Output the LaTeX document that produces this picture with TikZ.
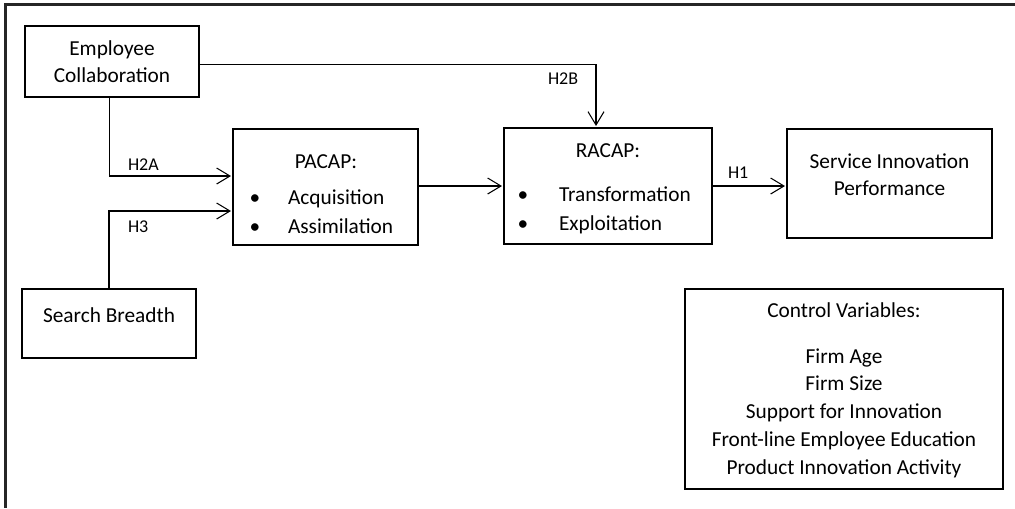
\documentclass[tikz,border=0pt]{standalone}
\usepackage{fontspec}
\setmainfont{Carlito}
\usepackage{tikz}
\usetikzlibrary{arrows.meta,positioning}

\begin{document}
\begin{tikzpicture}
[x=0.75pt, y=-0.75pt,
 every node/.style={font=\fontsize{16}{20.5}\selectfont, inner sep=0pt, outer sep=0pt},
 box/.style 2 args={draw, line width=0.9pt, minimum width=#1*0.75pt, minimum height=#2*0.75pt},
 txt/.style={anchor=base},
 item/.style={anchor=base west},
 hyp/.style={anchor=base west, font=\fontsize{13.5}{16}\selectfont},
 link/.style={line width=0.8pt, -{Straight Barb[length=10pt,width=12pt,line width=0.8pt]}, shorten >=1.5pt}]
\useasboundingbox (0,0) rectangle (1015,508);
% Outer frame (top and left only)
\draw[line width=1.6pt, black!85] (1015,4.5) -- (5.5,4.5) -- (5.5,508);

% Define the boxes
\node[box={174}{71}] (ec) at (112,61.5) {};
\node[txt] (ec1) at (112,55) {Employee};
\node[txt] (ec2) at (112,82) {Collaboration};

\node[box={174}{69}] (sb) at (109,323.5) {};
\node[txt] (sb1) at (109,322) {Search Breadth};

\node[box={185}{116}] (pacap) at (325.5,187) {};
\node[txt] (pacap0) at (326,168) {PACAP:};
\node[txt] (pb1) at (255,204) {•};
\node[txt] (pb2) at (255,233) {•};
\node[item] (pacap1) at (288,204) {Acquisition};
\node[item] (pacap2) at (288,233) {Assimilation};

\node[box={208}{116}] (racap) at (608,186) {};
\node[txt] (racap0) at (608,157) {RACAP:};
\node[txt] (rb1) at (523,201) {•};
\node[txt] (rb2) at (523,230) {•};
\node[item] (racap1) at (559,201) {Transformation};
\node[item] (racap2) at (559,230) {Exploitation};

\node[box={205}{109}] (sip) at (889.5,183.5) {};
\node[txt] (sip1) at (889.5,168) {Service Innovation};
\node[txt] (sip2) at (889.5,195) {Performance};

\node[box={318}{200}] (cv) at (844,389) {};
\node[txt] (cv0) at (844,317) {Control Variables:};
\node[txt] (cv1) at (844,363) {Firm Age};
\node[txt] (cv2) at (844,390) {Firm Size};
\node[txt] (cv3) at (844,418) {Support for Innovation};
\node[txt] (cv4) at (844,446) {Front-line Employee Education};
\node[txt] (cv5) at (844,474) {Product Innovation Activity};

% Hypothesis labels
\node[hyp] (h2a) at (128,170) {H2A};
\node[hyp] (h3) at (128,232) {H3};
\node[hyp] (h2b) at (548,84) {H2B};
\node[hyp] (h1) at (728,178) {H1};

% Connectors
\draw[link] ([yshift=-1.9pt]ec.east) -| ([xshift=-9pt]racap.north);
\draw[link] ([xshift=-2.2pt]ec.south) |- ([yshift=8.25pt]pacap.west);
\draw[link] (sb.north) |- ([yshift=-18pt]pacap.west);
\draw[link] (racap.west -| pacap.east) -- (racap.west);
\draw[link] (racap.east) -- (racap.east -| sip.west);
\end{tikzpicture}
\end{document}
